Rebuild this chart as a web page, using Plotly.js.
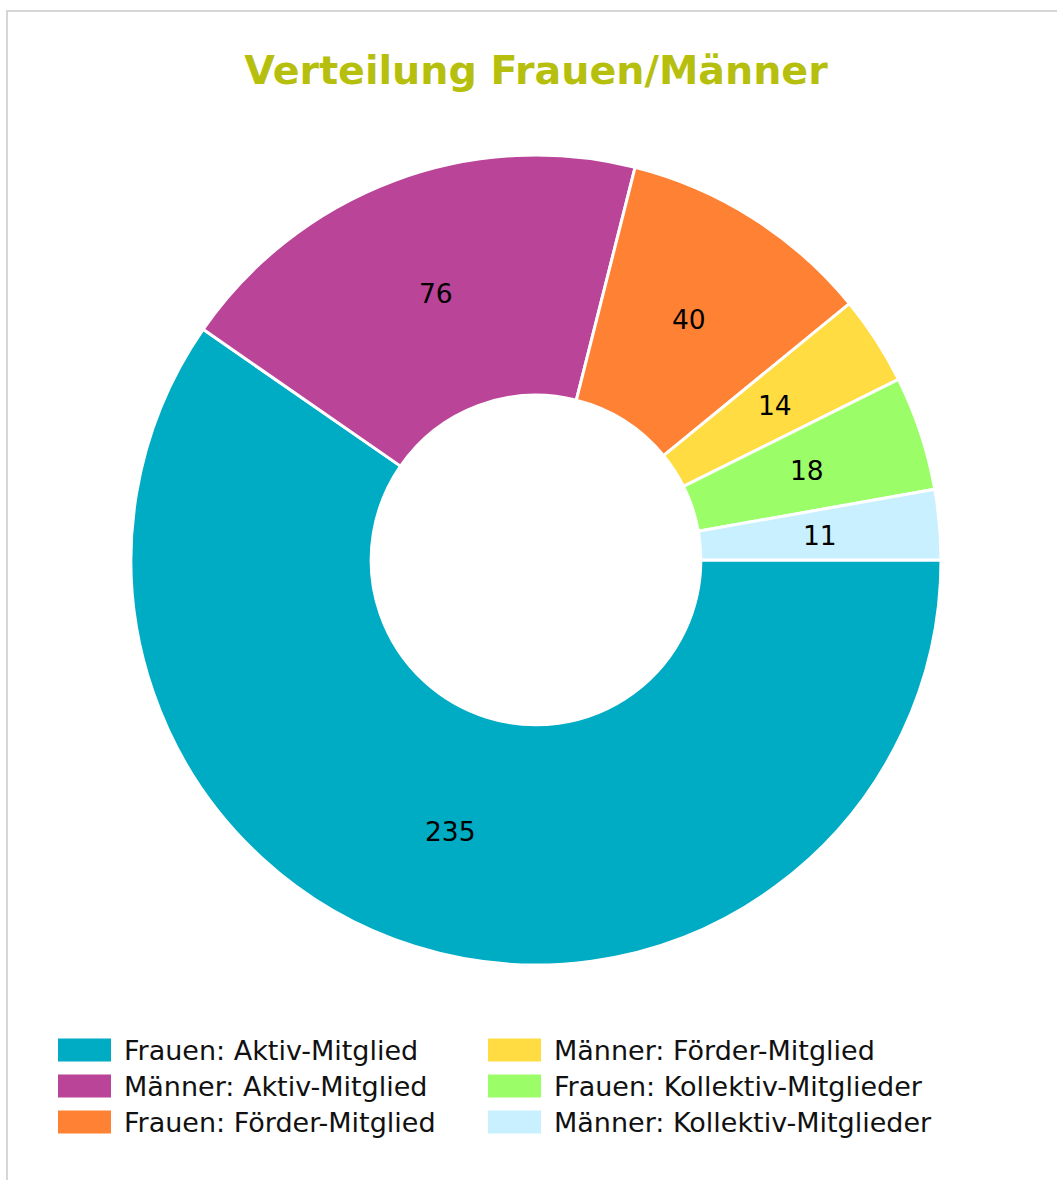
<!DOCTYPE html>
<html>
<head>
<meta charset="utf-8">
<script src="https://cdn.plot.ly/plotly-3.0.1.min.js"></script>
<style>
  html, body { margin: 0; padding: 0; background: #ffffff; }
  #frame { position: absolute; left: 6px; top: 10px; width: 1200px; height: 1300px;
           border-top: 2px solid #d6d6d6; border-left: 2px solid #d6d6d6; }
  #chart { position: absolute; left: 0; top: 0; width: 1057px; height: 1180px; }
</style>
</head>
<body>
<div id="frame"></div>
<div id="chart"></div>
<script>
// ---- data ----
const chartTitle = "Verteilung Frauen/Männer";
const labels = [
  "Frauen: Aktiv-Mitglied",
  "Männer: Aktiv-Mitglied",
  "Frauen: Förder-Mitglied",
  "Männer: Förder-Mitglied",
  "Frauen: Kollektiv-Mitglieder",
  "Männer: Kollektiv-Mitglieder"
];
const values = [235, 76, 40, 14, 18, 11];
const colors = ["#00abc4", "#ba4497", "#fe8134", "#ffdc42", "#9bfe69", "#c8f0fe"];

// ---- layout helpers ----
const W = 1057, H = 1180;
const cx = 536, cy = 560, R = 405;
const HOLE = 0.407;
const px = x => x / W;
const py = y => 1 - y / H;
const FONT = "DejaVu Sans, Verdana, sans-serif";

const trace = {
  type: "pie",
  labels: labels,
  values: values,
  marker: { colors: colors, line: { color: "#ffffff", width: 3 } },
  hole: HOLE,
  sort: false,
  direction: "clockwise",
  rotation: 90,
  textinfo: "none",
  showlegend: false,
  domain: { x: [px(cx - R), px(cx + R)], y: [py(cy + R), py(cy - R)] },
  hoverinfo: "label+value+percent"
};

const shapes = [];
const annotations = [];

// slice value labels, horizontal, centred in the ring at each slice's mid-angle
const total = values.reduce((a, b) => a + b, 0);
const rMid = R * (1 + HOLE) / 2;
let cum = 0;
values.forEach(v => {
  const midFrac = (cum + v / 2) / total;
  cum += v;
  const ang = midFrac * 2 * Math.PI; // clockwise from 3 o'clock
  const x = cx + rMid * Math.cos(ang);
  const y = cy + rMid * Math.sin(ang);
  annotations.push({
    xref: "paper", yref: "paper", x: px(x), y: py(y),
    xanchor: "center", yanchor: "middle", showarrow: false, text: String(v),
    font: { family: FONT, size: 26.5, color: "#000000" }
  });
});

// two-column legend (column-major order, as in the reference)
const rowsPerCol = 3;
const colX = [58, 488];
const rowY = [1050, 1086, 1122];
const swW = 53, swH = 23, textGap = 11;
labels.forEach((lab, i) => {
  const col = Math.floor(i / rowsPerCol);
  const row = i % rowsPerCol;
  const x0 = colX[col], yc = rowY[row];
  shapes.push({
    type: "rect", xref: "paper", yref: "paper",
    x0: px(x0), x1: px(x0 + swW), y0: py(yc + swH / 2), y1: py(yc - swH / 2),
    fillcolor: colors[i], line: { width: 0 }
  });
  annotations.push({
    xref: "paper", yref: "paper", x: px(x0 + swW + textGap), y: py(yc),
    xanchor: "left", yanchor: "middle", showarrow: false, text: lab,
    font: { family: FONT, size: 27, color: "#111111" }
  });
});

const layout = {
  width: W, height: H,
  margin: { l: 0, r: 0, t: 0, b: 0, pad: 0 },
  paper_bgcolor: "rgba(0,0,0,0)",
  plot_bgcolor: "rgba(0,0,0,0)",
  title: {
    text: "<b>" + chartTitle + "</b>",
    font: { family: FONT, size: 39.6, color: "#b6bf0d", weight: "bold" },
    x: px(536), xanchor: "center", xref: "paper",
    y: py(70), yanchor: "middle", yref: "paper"
  },
  shapes: shapes,
  annotations: annotations,
  showlegend: false
};

Plotly.newPlot("chart", [trace], layout, { displayModeBar: false, responsive: false });
</script>
</body>
</html>
